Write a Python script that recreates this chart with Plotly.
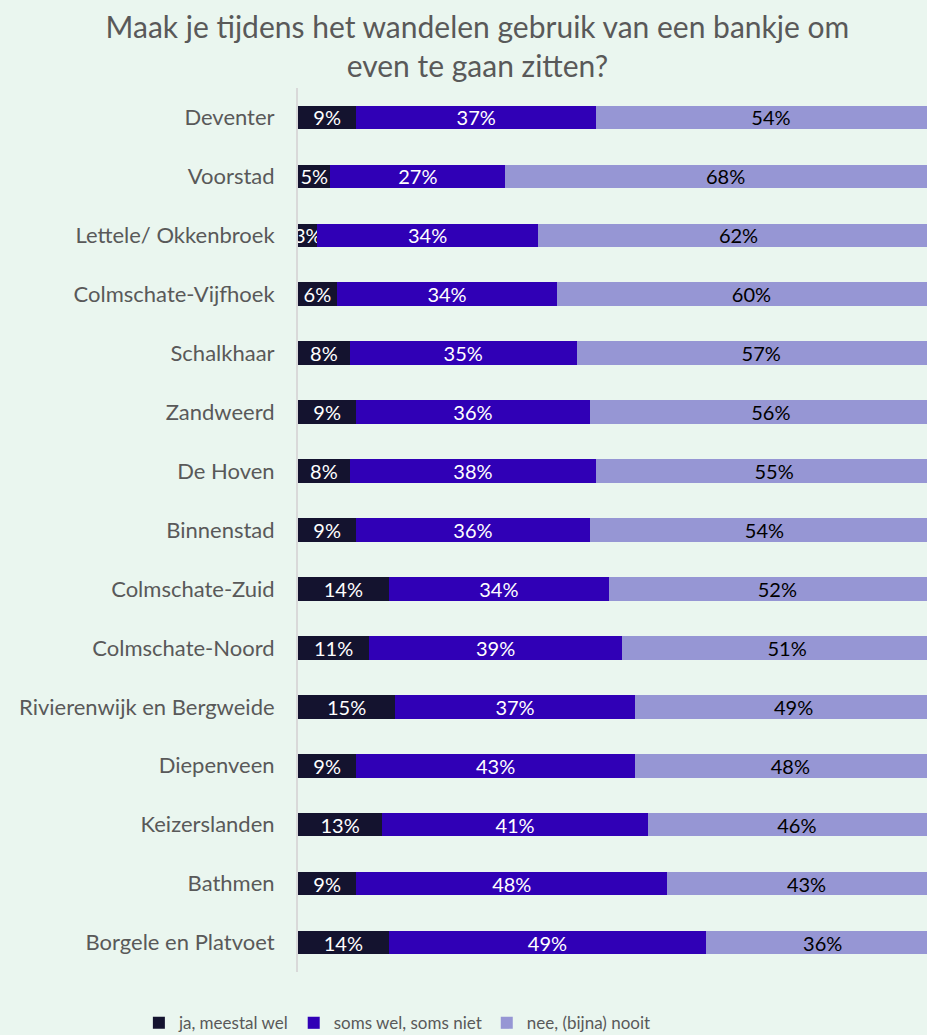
import plotly.graph_objects as go

# Gegevens per wijk (percentages)
wijken = [
    "Deventer", "Voorstad", "Lettele/ Okkenbroek", "Colmschate-Vijfhoek",
    "Schalkhaar", "Zandweerd", "De Hoven", "Binnenstad", "Colmschate-Zuid",
    "Colmschate-Noord", "Rivierenwijk en Bergweide", "Diepenveen",
    "Keizerslanden", "Bathmen", "Borgele en Platvoet",
]
ja_meestal = [9, 5, 3, 6, 8, 9, 8, 9, 14, 11, 15, 9, 13, 9, 14]
soms = [37, 27, 34, 34, 35, 36, 38, 36, 34, 39, 37, 43, 41, 48, 49]
nee_nooit = [54, 68, 62, 60, 57, 56, 55, 54, 52, 51, 49, 48, 46, 43, 36]

reeksen = [
    ("ja, meestal wel", ja_meestal, "#14132F", "white"),
    ("soms wel, soms niet", soms, "#3000B6", "white"),
    ("nee, (bijna) nooit", nee_nooit, "#9696D4", "black"),
]

FONT = "Lato"
GRIJS = "#595959"

fig = go.Figure()
for naam, waarden, kleur, tekstkleur in reeksen:
    fig.add_trace(go.Bar(
        y=wijken,
        x=waarden,
        name=naam,
        orientation="h",
        marker=dict(color=kleur, line=dict(width=0)),
        text=[f"{v}%" for v in waarden],
        textposition="inside",
        insidetextanchor="middle",
        textangle=0,
        constraintext="none",
        insidetextfont=dict(family=FONT, size=20, color=tekstkleur),
        hoverinfo="skip",
    ))

fig.update_layout(
    barmode="stack",
    bargap=0.6,
    width=927,
    height=1035,
    paper_bgcolor="#EAF6EF",
    plot_bgcolor="#EAF6EF",
    font=dict(family=FONT, color=GRIJS),
    margin=dict(l=298, r=0, t=88, b=63, autoexpand=False),
    title=dict(
        text="Maak je tijdens het wandelen gebruik van een bankje om<br>even te gaan zitten?",
        x=0.515,
        xref="container",
        xanchor="center",
        y=0.963,
        yref="container",
        yanchor="top",
        font=dict(family=FONT, size=30, color=GRIJS),
    ),
    legend=dict(
        orientation="h",
        x=0.158,
        xanchor="center",
        y=-0.058,
        yanchor="middle",
        font=dict(family=FONT, size=17, color=GRIJS),
        traceorder="normal",
        bgcolor="rgba(0,0,0,0)",
    ),
    showlegend=True,
)
fig.update_xaxes(
    range=[0, 97.1],
    visible=False,
    fixedrange=True,
)
fig.update_yaxes(
    autorange="reversed",
    showline=True,
    linecolor="#D9D9D9",
    linewidth=2,
    showgrid=False,
    ticks="",
    ticklabelstandoff=17,
    tickfont=dict(family=FONT, size=22, color=GRIJS),
)

fig.write_html(
    "out.html",
    config={"displayModeBar": False},
    post_script="document.body.style.margin='0';",
)
